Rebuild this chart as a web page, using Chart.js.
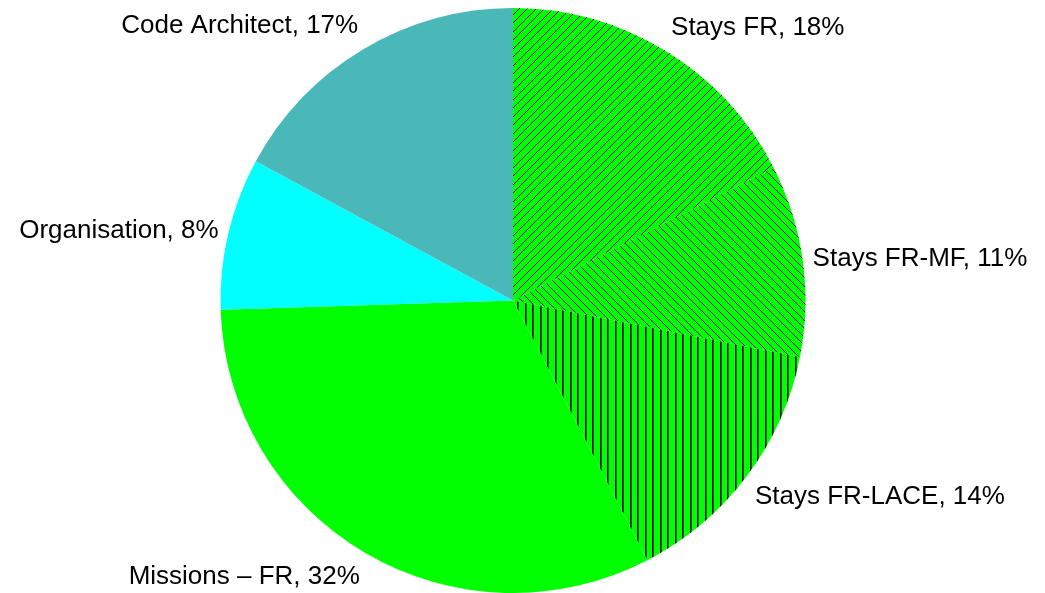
<!DOCTYPE html>
<html>
<head>
<meta charset="utf-8">
<title>Pie</title>
<script src="https://cdn.jsdelivr.net/npm/chart.js@4/dist/chart.umd.min.js"></script>
<style>
  html, body { margin: 0; padding: 0; background: #ffffff; }
  canvas { display: block; }
</style>
</head>
<body>
<canvas id="myChart" width="1045" height="593"></canvas>
<script>
'use strict';

// Data (tenths of a percent; labels show the rounded share)
const categories = ['Stays FR', 'Stays FR-MF', 'Stays FR-LACE', 'Missions \u2013 FR', 'Organisation', 'Code Architect'];
const shares = [175, 106, 143, 321, 84, 171];

// Fill styles: plain colours or hatch names
const sliceFills = ['hatch-up', 'hatch-down', 'hatch-vertical', '#00ff00', '#00ffff', '#4ab8b8'];

const ctx = document.getElementById('myChart');

// build a tile with black 1px lines over green (two lines per tile, ~8.5px apart)
function makeHatch(kind){
  const size = 17;
  const tile = document.createElement('canvas');
  tile.width = size;
  tile.height = size;
  const t = tile.getContext('2d');
  t.fillStyle = '#00ff00';
  t.fillRect(0, 0, size, size);
  t.fillStyle = '#000000';
  if(kind === 'hatch-up' || kind === 'hatch-down'){
    for(let x = 0; x < size; x++){
      for(let y = 0; y < size; y++){
        const d = kind === 'hatch-up' ? (x + y) % size : (x - y + size) % size;
        if(d === 0 || d === 8){
          t.fillRect(x, y, 1, 1);
        }
      }
    }
  } else if(kind === 'hatch-vertical'){
    // vertical lines, a touch heavier with a dark green edge
    const tileW = 15;
    tile.width = tileW;
    t.fillStyle = '#00ff00';
    t.fillRect(0, 0, tileW, size);
    t.fillStyle = '#000000';
    t.fillRect(0, 0, 1, size);
    t.fillRect(7, 0, 1, size);
    t.fillStyle = '#007000';
    t.fillRect(1, 0, 1, size);
    t.fillRect(8, 0, 1, size);
  }
  return ctx.getContext('2d').createPattern(tile, 'repeat');
}

function resolveFill(fill){
  if(fill.indexOf('hatch') === 0){
    return makeHatch(fill);
  }
  return fill;
}

function percentOf(i){
  const total = shares.reduce(function(a, b){ return a + b; }, 0);
  return Math.round(shares[i] * 100 / total);
}

// Outside labels: "name, value%" placed just past the rim
const outsideLabels = {
  id: 'outsideLabels',
  afterDraw(chart){
    const c = chart.ctx;
    const meta = chart.getDatasetMeta(0);
    const boxH = 30;
    const gap = 10;
    c.save();
    c.font = '26px "Liberation Sans", Arial, sans-serif';
    c.fillStyle = '#000000';
    c.textBaseline = 'middle';
    c.textAlign = 'left';

    meta.data.forEach(function(arc, i){
      const mid = (arc.startAngle + arc.endAngle) / 2;
      const s = Math.cos(mid);   // rightward
      const k = -Math.sin(mid);  // upward
      const R = arc.outerRadius + gap;
      const ax = arc.x + R * s;
      const ay = arc.y - R * k;

      const text = categories[i] + ', ' + percentOf(i) + '%';
      const w = c.measureText(text).width;

      let left;
      if(s > 0.3){ left = ax; }
      else if(s < -0.3){ left = ax - w; }
      else { left = ax - w / 2; }

      let top;
      if(k > 0.3){ top = ay - boxH; }
      else if(k < -0.3){ top = ay; }
      else { top = ay - boxH / 2; }

      // keep inside the canvas
      top = Math.max(0, Math.min(chart.height - boxH, top));
      left = Math.max(2, Math.min(chart.width - w - 2, left));

      c.fillText(text, left, top + boxH / 2);
    });
    c.restore();
  }
};

const chartObj = {
  type: 'pie',
  data: {
    labels: categories,
    datasets: [{
      data: shares,
      backgroundColor: sliceFills.map(resolveFill),
      borderWidth: 0
    }]
  },
  options: {
    responsive: false,
    animation: false,
    layout: {
      padding: { top: 8, bottom: 0, left: 0, right: 19 }
    },
    plugins: {
      legend: { display: false },
      tooltip: { enabled: false }
    }
  },
  plugins: [outsideLabels]
};

new Chart(ctx, chartObj);
</script>
</body>
</html>
